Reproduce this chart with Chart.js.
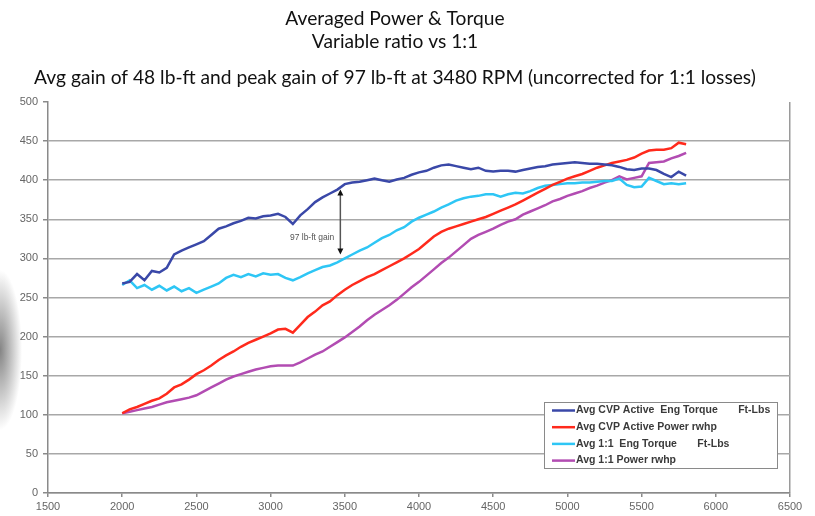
<!DOCTYPE html>
<html>
<head>
<meta charset="utf-8">
<title>Averaged Power &amp; Torque</title>
<script src="https://cdn.jsdelivr.net/npm/chart.js@4.4.1/dist/chart.umd.min.js"></script>
<style>
  html, body { margin: 0; padding: 0; }
  body {
    width: 815px;
    height: 516px;
    overflow: hidden;
    /* scanner shadow at the left edge of the page */
    background: radial-gradient(ellipse 22px 80px at 0px 350px, rgba(80,80,80,0.7), rgba(255,255,255,0) 100%), #fff;
  }
  #wrap { position: relative; width: 815px; height: 516px; }
</style>
</head>
<body>
<div id="wrap"><canvas id="powerChart" width="815" height="516"></canvas></div>
<script>
// Dyno data (RPM step 50)
const rpm = [
  2000, 2050, 2100, 2150, 2200, 2250, 2300, 2350, 2400, 2450,
  2500, 2550, 2600, 2650, 2700, 2750, 2800, 2850, 2900, 2950,
  3000, 3050, 3100, 3150, 3200, 3250, 3300, 3350, 3400, 3450,
  3500, 3550, 3600, 3650, 3700, 3750, 3800, 3850, 3900, 3950,
  4000, 4050, 4100, 4150, 4200, 4250, 4300, 4350, 4400, 4450,
  4500, 4550, 4600, 4650, 4700, 4750, 4800, 4850, 4900, 4950,
  5000, 5050, 5100, 5150, 5200, 5250, 5300, 5350, 5400, 5450,
  5500, 5550, 5600, 5650, 5700, 5750, 5800
];

const cvpTorque = [
  268, 270, 280, 272, 284, 282, 288, 305, 310, 314,
  318, 322, 330, 338, 341, 345, 348, 352, 351, 354,
  355, 357, 353, 344, 355, 363, 372, 378, 383, 388,
  395, 397, 398, 400, 402, 400, 398, 401, 403, 407,
  410, 412, 416, 419, 420, 418, 416, 414, 416, 412,
  411, 412, 412, 411, 413, 415, 417, 418, 420, 421,
  422, 423, 422, 421, 421, 420, 419, 417, 414, 413,
  415, 415, 413, 408, 404, 411, 406
];

const cvpPower = [
  102, 107, 110, 114, 118, 121, 127, 135, 139, 145,
  152, 157, 163, 170, 176, 181, 187, 192, 196, 200,
  204, 209, 210, 205, 215, 225, 232, 240, 245, 253,
  260, 266, 271, 276, 280, 285, 290, 295, 300, 306,
  312, 320, 328, 334, 338, 341, 344, 347, 350, 353,
  357, 361, 365, 369, 374, 379, 384, 389, 394, 398,
  402, 405, 408, 412, 416, 419, 422, 424, 426, 429,
  434, 438, 439, 439, 441, 448, 446
];

const oneTorque = [
  266, 272, 262, 266, 260, 265, 259, 264, 258, 262,
  256, 260, 264, 268, 275, 279, 276, 280, 277, 281,
  279, 280, 275, 272, 276, 281, 285, 289, 291, 295,
  300, 305, 310, 314, 320, 326, 330, 336, 340, 347,
  352, 356, 360, 365, 369, 374, 377, 379, 380, 382,
  382, 379, 382, 384, 383, 386, 390, 393, 394, 395,
  396, 396, 397, 397, 398, 399, 399, 402, 394, 391,
  392, 403, 399, 395, 396, 395, 396
];

const onePower = [
  102, 104, 106, 108, 110, 113, 116, 118, 120, 122,
  125, 130, 135, 140, 145, 149, 152, 155, 158, 160,
  162, 163, 163, 163, 167, 172, 177, 181, 187, 193,
  199, 206, 213, 221, 228, 234, 240, 247, 255, 263,
  270, 278, 286, 294, 301, 309, 317, 325, 330, 334,
  338, 343, 347, 350, 356, 360, 364, 368, 373, 376,
  380, 383, 386, 390, 393, 397, 400, 405, 401, 403,
  405, 422, 423, 424, 428, 431, 435
];

const seriesLabels = [
  'Avg CVP Active  Eng Torque       Ft-Lbs',
  'Avg CVP Active Power rwhp',
  'Avg 1:1  Eng Torque       Ft-Lbs',
  'Avg 1:1 Power rwhp'
];
const seriesColors = ['#3a48a8', '#ff2a1c', '#2ec6f5', '#b24cb2'];

const titleLines = ['Averaged Power & Torque', 'Variable ratio vs 1:1'];
const subtitleLine = 'Avg gain of 48 lb-ft and peak gain of 97 lb-ft at 3480 RPM (uncorrected for 1:1 losses)';

// Peak gain marker
const gainRpm = 3470;
const gainTop = 388;
const gainBottom = 305;
const gainLabel = '97 lb-ft gain';
const gainLabelValue = 326;

const titleFont = 'Lato, "Liberation Sans", Arial, sans-serif';
const tickFont = { family: '"Liberation Sans", Arial, sans-serif', size: 11 };

function toPoints(values) {
  return rpm.map((r, i) => ({ x: r, y: values[i] }));
}

/**
 * Draw the vertical "97 lb-ft gain" arrow with its label
 */
const gainArrow = {
  id: 'gainArrow',
  afterDatasetsDraw(chart) {
    const { ctx, scales } = chart;
    const x = scales.x.getPixelForValue(gainRpm);
    const yTop = scales.y.getPixelForValue(gainTop);
    const yBot = scales.y.getPixelForValue(gainBottom);
    ctx.save();
    ctx.strokeStyle = '#555';
    ctx.lineWidth = 1.5;
    ctx.beginPath();
    ctx.moveTo(x, yTop + 4);
    ctx.lineTo(x, yBot - 4);
    ctx.stroke();
    ctx.fillStyle = '#111';
    // top head
    ctx.beginPath();
    ctx.moveTo(x, yTop);
    ctx.lineTo(x - 3, yTop + 6);
    ctx.lineTo(x + 3, yTop + 6);
    ctx.closePath();
    ctx.fill();
    // bottom head
    ctx.beginPath();
    ctx.moveTo(x, yBot);
    ctx.lineTo(x - 3, yBot - 6);
    ctx.lineTo(x + 3, yBot - 6);
    ctx.closePath();
    ctx.fill();
    ctx.font = '8.5px "Liberation Sans", Arial, sans-serif';
    ctx.fillStyle = '#555';
    ctx.textAlign = 'right';
    ctx.textBaseline = 'middle';
    ctx.fillText(gainLabel, x - 6, scales.y.getPixelForValue(gainLabelValue));
    ctx.restore();
  }
};

/**
 * Boxed legend sitting inside the plot, bottom right
 */
const boxLegend = {
  id: 'boxLegend',
  afterDatasetsDraw(chart) {
    const { ctx, chartArea } = chart;
    const w = 233, h = 66;
    const left = chartArea.right - 13 - w;
    const top = chartArea.bottom - 25 - h;
    ctx.save();
    ctx.fillStyle = '#fff';
    ctx.fillRect(left, top, w, h);
    ctx.strokeStyle = '#8a8a8a';
    ctx.lineWidth = 1;
    ctx.strokeRect(left + 0.5, top + 0.5, w, h);
    ctx.font = 'bold 10.5px "Liberation Sans", Arial, sans-serif';
    ctx.textBaseline = 'middle';
    chart.data.datasets.forEach((ds, i) => {
      const ly = top + 8.5 + i * 16.7;
      ctx.strokeStyle = ds.borderColor;
      ctx.lineWidth = 2.5;
      ctx.beginPath();
      ctx.moveTo(left + 8, ly);
      ctx.lineTo(left + 31, ly);
      ctx.stroke();
      ctx.fillStyle = '#3a3a3a';
      ctx.fillText(ds.label, left + 32, ly);
    });
    ctx.restore();
  }
};

const ctx = document.getElementById('powerChart').getContext('2d');
const powerChart = new Chart(ctx, {
  type: 'line',
  data: {
    datasets: [
      { label: seriesLabels[0], data: toPoints(cvpTorque), borderColor: seriesColors[0] },
      { label: seriesLabels[1], data: toPoints(cvpPower), borderColor: seriesColors[1] },
      { label: seriesLabels[2], data: toPoints(oneTorque), borderColor: seriesColors[2] },
      { label: seriesLabels[3], data: toPoints(onePower), borderColor: seriesColors[3] }
    ]
  },
  options: {
    responsive: false,
    animation: false,
    layout: { padding: { left: 0, right: 25, top: 0, bottom: 0 } },
    elements: {
      point: { radius: 0 },
      line: { borderWidth: 2.5, tension: 0, fill: false }
    },
    plugins: {
      legend: { display: false },
      tooltip: { enabled: false },
      title: {
        display: true,
        text: titleLines,
        color: '#111',
        font: { family: titleFont, size: 19.2, weight: 'normal', lineHeight: 1.2 },
        padding: { top: 7, bottom: 0 }
      },
      subtitle: {
        display: true,
        text: subtitleLine,
        color: '#111',
        font: { family: titleFont, size: 19.2, weight: 'normal', lineHeight: 1.2 },
        padding: { top: 13, bottom: 12.9 }
      }
    },
    scales: {
      x: {
        type: 'linear',
        min: 1500,
        max: 6500,
        afterFit(scale) { scale.height = 23; },
        border: { display: true, color: '#8a8a8a', width: 1.5 },
        grid: {
          color: c => (c.tick && c.tick.value === 6500 ? '#9a9a9a' : 'rgba(0,0,0,0)'),
          lineWidth: 1.5,
          tickColor: '#8a8a8a',
          tickLength: 4
        },
        ticks: {
          stepSize: 500,
          autoSkip: false,
          maxRotation: 0,
          padding: 3,
          color: '#666',
          font: tickFont,
          callback: v => String(v)
        }
      },
      y: {
        min: 0,
        max: 500,
        afterFit(scale) { scale.width = 48; },
        border: { display: true, color: '#8a8a8a', width: 1.5 },
        grid: {
          color: c => (c.tick && c.tick.value === 500 ? 'rgba(0,0,0,0)' : '#a8a8a8'),
          lineWidth: 1.5,
          tickColor: '#8a8a8a',
          tickLength: 5
        },
        ticks: {
          stepSize: 50,
          padding: 5,
          color: '#666',
          font: tickFont
        }
      }
    }
  },
  plugins: [gainArrow, boxLegend]
});
</script>
</body>
</html>
